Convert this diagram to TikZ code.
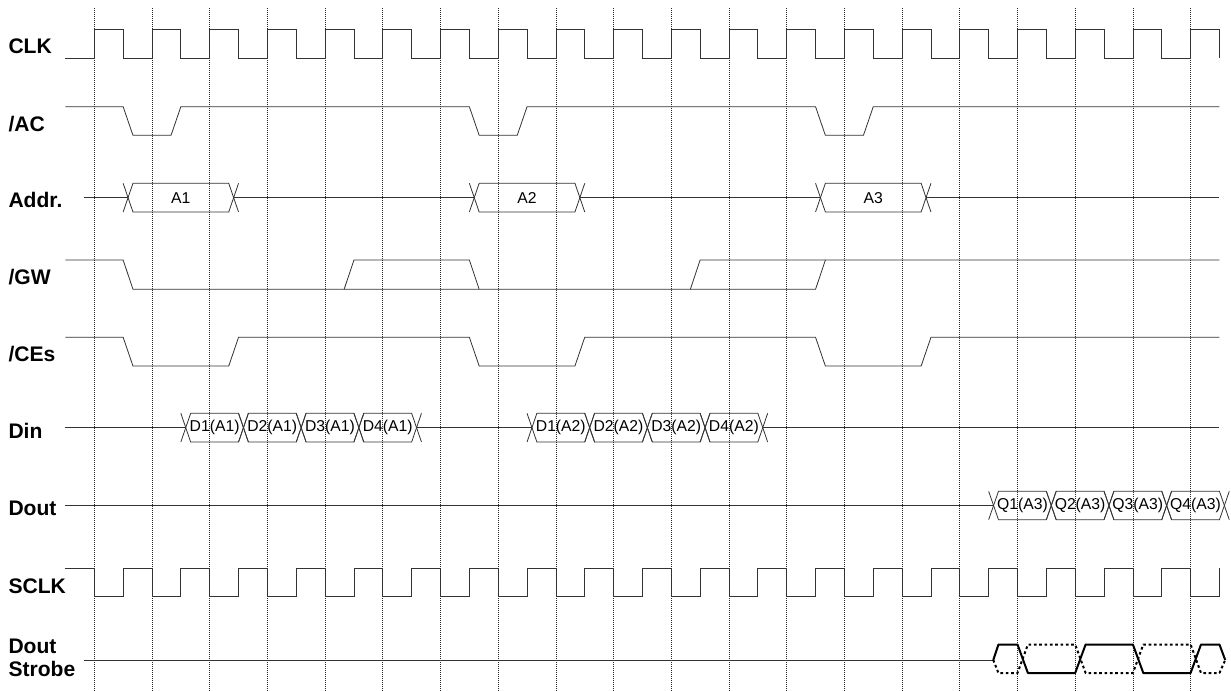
\documentclass[tikz,border=0pt]{standalone}
\usepackage{fontspec}
\setmainfont{Liberation Sans}

\begin{document}
\begin{tikzpicture}[x=43.275pt, y=-0.75pt,
  wave/.style={line width=0.6pt, draw=black!80},
  gridline/.style={line width=0.55pt, draw=black!85, dash pattern=on 0.9pt off 0.6pt},
  sig/.style={anchor=base west, inner sep=0pt, font=\fontsize{15.8}{17}\selectfont\bfseries},
  buslabel/.style={inner sep=0pt, font=\fontsize{11.8}{13}\selectfont},
  strobe/.style={line width=1.5pt, line join=round},
  strobeoff/.style={strobe, dash pattern=on 2pt off 2pt}]
\useasboundingbox (-1.6343,0) rectangle (19.7002,691);
%grid
\foreach \k in {0,...,19}
  \draw[gridline] (\k,8) -- (\k,691);
%signal names
\node[sig] (clk) at (-1.491,53.3) {CLK};
\node[sig] (ac) at (-1.491,131.7) {/AC};
\node[sig] (addr) at (-1.491,208) {Addr.};
\node[sig] (gw) at (-1.491,285) {/GW};
\node[sig] (ces) at (-1.491,361.7) {/CEs};
\node[sig] (din) at (-1.491,438) {Din};
\node[sig] (dout) at (-1.491,515) {Dout};
\node[sig] (sclk) at (-1.491,593) {SCLK};
\node[sig, anchor=north west, align=left] (strb) at (-1.491,639) {Dout\\Strobe};
%clocks
\draw[wave] (-0.5,58) foreach \k in {0,...,19} {
  -- (\k,58) -- (\k,29.3) -- (\k+0.5,29.3) -- (\k+0.5,58) };
\draw[wave] (-0.5,568.3) foreach \k in {0,...,19} {
  -- (\k,568.3) -- (\k,596.7) -- (\k+0.5,596.7) -- (\k+0.5,568.3) };
%control lines
\draw[wave] (-0.5,106.7) foreach \k in {0,6,12} {
  -- (\k+0.5,106.7) -- (\k+0.67,135.3) -- (\k+1.33,135.3) -- (\k+1.5,106.7) } -- (19.5,106.7);
\draw[wave] (-0.5,260) -- (0.5,260) -- (0.67,289.3) -- (12.5,289.3) -- (12.67,260) -- (19.5,260);
\draw[wave] (4.33,289.3) -- (4.5,260) -- (6.5,260) -- (6.67,289.3);
\draw[wave] (10.33,289.3) -- (10.5,260) -- (12.67,260);
\draw[wave] (-0.5,337.3) foreach \k in {0,6,12} {
  -- (\k+0.5,337.3) -- (\k+0.67,366) -- (\k+2.33,366) -- (\k+2.5,337.3) } -- (19.5,337.3);
%address bus
\draw[wave] (-0.17,197.7) -- (0.585,197.7);
\draw[wave] (2.415,197.7) -- (6.585,197.7);
\draw[wave] (8.415,197.7) -- (12.585,197.7);
\draw[wave] (14.415,197.7) -- (19.5,197.7);
\foreach \a/\b/\txt/\n in {0.585/2.415/A1/adA, 6.585/8.415/A2/adB, 12.585/14.415/A3/adC} {
  \draw[wave] (\a-0.085,183.3) -- (\a+0.085,212) -- (\b-0.085,212) -- (\b+0.085,183.3);
  \draw[wave] (\a-0.085,212) -- (\a+0.085,183.3) -- (\b-0.085,183.3) -- (\b+0.085,212);
  \node[buslabel] (\n) at ({(\a+\b)/2},197.7) {\txt};
}
%data in
\draw[wave] (-0.5,427.7) -- (1.585,427.7);
\draw[wave] (5.585,427.7) -- (7.585,427.7);
\draw[wave] (11.585,427.7) -- (19.5,427.7);
\foreach \a/\txt/\n in {1.585/D1(A1)/dinA, 2.585/D2(A1)/dinB, 3.585/D3(A1)/dinC, 4.585/D4(A1)/dinD,
    7.585/D1(A2)/dinE, 8.585/D2(A2)/dinF, 9.585/D3(A2)/dinG, 10.585/D4(A2)/dinH} {
  \draw[wave] (\a-0.085,413.3) -- (\a+0.085,442) -- (\a+0.915,442) -- (\a+1.085,413.3);
  \draw[wave] (\a-0.085,442) -- (\a+0.085,413.3) -- (\a+0.915,413.3) -- (\a+1.085,442);
  \node[buslabel] (\n) at (\a+0.5,427.7) {\txt};
}
%data out
\draw[wave] (-0.5,505) -- (15.585,505);
\foreach \a/\txt/\n in {15.585/Q1(A3)/doA, 16.585/Q2(A3)/doB, 17.585/Q3(A3)/doC, 18.585/Q4(A3)/doD} {
  \draw[wave] (\a-0.085,491.3) -- (\a+0.085,519.7) -- (\a+0.915,519.7) -- (\a+1.085,491.3);
  \draw[wave] (\a-0.085,519.7) -- (\a+0.085,491.3) -- (\a+0.915,491.3) -- (\a+1.085,519.7);
  \node[buslabel] (\n) at (\a+0.5,505) {\txt};
}
%strobe
\draw[wave] (-0.17,660) -- (15.58,660);
\draw[strobe] (15.58,660) -- (15.67,644.5) -- (16,644.5) -- (16.18,673) -- (17,673) -- (17.18,644.5)
  -- (18,644.5) -- (18.18,673) -- (19,673) -- (19.18,644.5) -- (19.5,644.5) -- (19.6,660);
\draw[strobeoff] (15.58,660) -- (15.67,673) -- (16,673) -- (16.18,644.5) -- (17,644.5) -- (17.18,673)
  -- (18,673) -- (18.18,644.5) -- (19,644.5) -- (19.18,673) -- (19.5,673) -- (19.6,660);
\end{tikzpicture}
\end{document}
